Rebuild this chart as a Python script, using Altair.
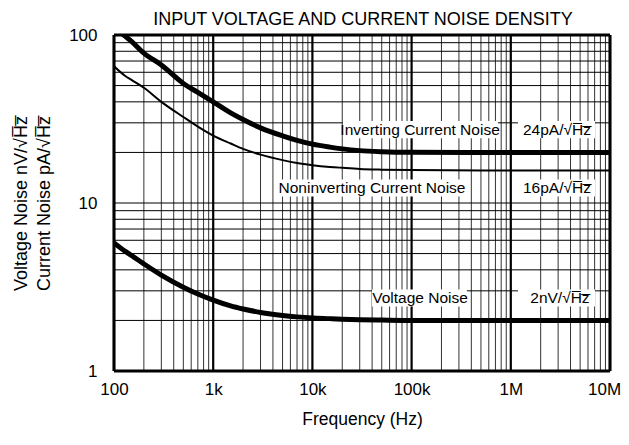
import altair as alt
import pandas as pd

FONT = "Liberation Sans"

# ---- data ----
freq = [100, 130, 150, 200, 300, 500, 700, 1000, 1500, 2000, 3000, 5000, 7000,
        10000, 15000, 20000, 30000, 50000, 100000, 1000000, 10000000]
inverting = [111.4, 98.1, 91.7, 78.0, 66.3, 51.5, 45.5, 40.0, 34.4, 31.4, 28.0, 25.1,
             23.6, 22.4, 21.5, 21.0, 20.5, 20.2, 20.05, 20.0, 20.0]
noninverting = [65.1, 57.0, 54.0, 48.5, 40.0, 32.5, 28.5, 25.2, 22.6, 21.0, 19.4, 18.0,
                17.3, 16.8, 16.4, 16.2, 15.95, 15.8, 15.7, 15.6, 15.6]
voltage = [5.79, 5.15, 4.87, 4.34, 3.72, 3.15, 2.87, 2.64, 2.44, 2.34, 2.23, 2.14,
           2.10, 2.07, 2.05, 2.035, 2.02, 2.01, 2.0, 2.0, 2.0]

x_major = [100, 1000, 10000, 100000, 1000000, 10000000]
x_minor = [m * d for d in [100, 1000, 10000, 100000, 1000000] for m in range(2, 10)]
y_grid = [2, 3, 4, 5, 6, 7, 8, 9, 10, 20, 30, 40, 50, 60, 70, 80, 90]
y_ticks = [1, 10, 100]
x_tick_labels = ["100", "1k", "10k", "100k", "1M", "10M"]

TITLE = "INPUT VOLTAGE AND CURRENT NOISE DENSITY"
SQ = "\u221aH\u0305z\u0305"
label_text = ["Inverting Current Noise", "24pA/" + SQ, "Noninverting Current Noise",
              "16pA/" + SQ, "Voltage Noise", "2nV/" + SQ]
label_f = [121700, 2920000, 39900, 2920000, 121700, 3130000]
label_v = [27.2, 27.2, 12.3, 12.3, 2.72, 2.72]
box_f1 = [20300, 1180000, 4820, 1180000, 39900, 1180000]
box_f2 = [743000, 7060000, 330000, 7060000, 361000, 7060000]
box_v1 = [24.3, 24.3, 10.95, 10.95, 2.42, 2.42]
box_v2 = [30.8, 30.8, 13.8, 13.8, 3.06, 3.06]

# ---- tables ----
curves = pd.DataFrame({
    "f": freq * 3,
    "v": inverting + noninverting + voltage,
    "s": ["inv"] * len(freq) + ["non"] * len(freq) + ["volt"] * len(freq),
    "w": [5] * len(freq) + [2] * len(freq) + [5] * len(freq),
})
labels = pd.DataFrame({"t": label_text, "f": label_f, "v": label_v})
boxes = pd.DataFrame({"f1": box_f1, "f2": box_f2, "v1": box_v1, "v2": box_v2})

xs = alt.Scale(type="log", domain=[100, 10000000], nice=False)
ys = alt.Scale(type="log", domain=[1, 100], nice=False)

label_expr = ("datum.value == 100 ? '100' : datum.value == 1000 ? '1k' : "
              "datum.value == 10000 ? '10k' : datum.value == 100000 ? '100k' : "
              "datum.value == 1000000 ? '1M' : '10M'")

x_axis = alt.Axis(values=x_major, labelExpr=label_expr, grid=False, ticks=False,
                  domain=False, labelFont=FONT, labelFontSize=17, labelColor="black",
                  labelPadding=10, title="Frequency (Hz)", titleFont=FONT,
                  titleFontSize=17.5, titleFontWeight="normal", titleColor="black",
                  titlePadding=13, labelFlush=False,
                  labelOffset={"condition": {"test": "datum.value == 10000000", "value": -6},
                               "value": 0})
y_axis = alt.Axis(values=y_ticks, format="d", grid=False, ticks=False,
                  domain=False, labelFont=FONT, labelFontSize=17, labelColor="black",
                  labelPadding=17,
                  title=["Voltage Noise nV/" + SQ, "Current Noise pA/" + SQ],
                  titleFont=FONT, titleFontSize=18, titleFontWeight="normal",
                  titleColor="black", titlePadding=15, titleLineHeight=23)


def X(field):
    return alt.X(field, scale=xs, axis=x_axis)


def Y(field):
    return alt.Y(field, scale=ys, axis=y_axis)


minor = alt.Chart(pd.DataFrame({"f": x_minor})).mark_rule(
    color="#333333", strokeWidth=1).encode(x=X("f:Q"))
major = alt.Chart(pd.DataFrame({"f": x_major})).mark_rule(
    color="black", strokeWidth=2.2).encode(x=X("f:Q"))
hgrid = alt.Chart(pd.DataFrame({"v": y_grid})).mark_rule(
    color="black", strokeWidth=1).encode(y=Y("v:Q"))
frame_y = alt.Chart(pd.DataFrame({"v": y_ticks[::2]})).mark_rule(
    color="black", strokeWidth=3).encode(y=Y("v:Q"))
frame_x = alt.Chart(pd.DataFrame({"f": [x_major[0], x_major[-1]]})).mark_rule(
    color="black", strokeWidth=3).encode(x=X("f:Q"))
rects = alt.Chart(boxes).mark_rect(color="white").encode(
    x=X("f1:Q"), x2="f2:Q", y=Y("v1:Q"), y2="v2:Q")
lines = alt.Chart(curves).mark_line(color="black", clip=True, strokeCap="butt",
                                    interpolate="monotone").encode(
    x=X("f:Q"), y=Y("v:Q"),
    detail="s:N",
    strokeWidth=alt.StrokeWidth("w:Q", scale=None),
)
texts = alt.Chart(labels).mark_text(font=FONT, fontSize=15.5, color="black",
                                    align="center", baseline="middle").encode(
    x=X("f:Q"), y=Y("v:Q"), text="t:N")
title = alt.Chart(pd.DataFrame({"t": [TITLE]})).mark_text(
    font=FONT, fontSize=18, color="black", align="center", baseline="alphabetic"
).encode(x=alt.value(249), y=alt.value(-10.5), text="t:N")

chart = alt.layer(minor, major, hgrid, rects, lines, texts, frame_x, frame_y,
                  title).properties(
    width=496, height=336,
    autosize=alt.AutoSizeParams(type="none"),
    padding={"left": 106, "top": 27, "right": 11, "bottom": 60},
).configure_view(stroke=None).configure(background="white")

chart.save("out.html", embed_options={"renderer": "svg", "actions": False})
